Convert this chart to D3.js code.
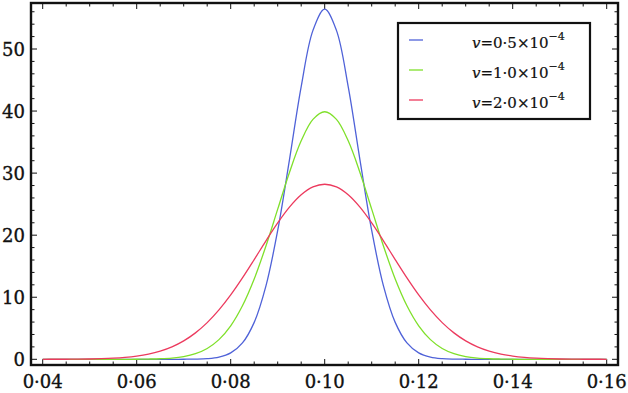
<!DOCTYPE html>
<html>
<head>
<meta charset="utf-8">
<script src="https://cdn.jsdelivr.net/npm/d3@7"></script>
<style>
  body { margin: 0; background: #fff; }
  svg { display: block; }
  text { font-family: "DejaVu Serif", "Liberation Serif", serif; fill: #111; stroke: #111; stroke-width: 0.35; }
</style>
</head>
<body>
<svg id="chart" width="628" height="393"></svg>
<script>
// x positions (0.04 .. 0.16, step 0.0025)
let xValues = [0.04, 0.0425, 0.045, 0.0475, 0.05, 0.0525, 0.055, 0.0575, 0.06, 0.0625, 0.065, 0.0675,
    0.07, 0.0725, 0.075, 0.0775, 0.08, 0.0825, 0.085, 0.0875, 0.09, 0.0925, 0.095, 0.0975, 0.10,
    0.1025, 0.105, 0.1075, 0.11, 0.1125, 0.115, 0.1175, 0.12, 0.1225, 0.125, 0.1275, 0.13, 0.1325,
    0.135, 0.1375, 0.14, 0.1425, 0.145, 0.1475, 0.15, 0.1525, 0.155, 0.1575, 0.16];

// values
let blueValues = [0, 0, 0, 0, 0, 0, 0, 0, 0, 0, 0, 0,
    0.01, 0.03, 0.11, 0.36, 1.03, 2.64, 5.95, 11.83, 20.76, 32.15, 43.94, 53.00, 56.42,
    53.00, 43.94, 32.15, 20.76, 11.83, 5.95, 2.64, 1.03, 0.36, 0.11, 0.03, 0.01,
    0, 0, 0, 0, 0, 0, 0, 0, 0, 0, 0, 0];
let greenValues = [0, 0, 0, 0, 0, 0, 0, 0,
    0.01, 0.04, 0.09, 0.20, 0.44, 0.91, 1.75, 3.17, 5.40, 8.63, 12.95, 18.26, 24.19, 30.11, 35.20, 38.66, 39.89,
    38.66, 35.20, 30.11, 24.19, 18.26, 12.95, 8.63, 5.40, 3.17, 1.75, 0.91, 0.44, 0.20, 0.09, 0.04, 0.01,
    0, 0, 0, 0, 0, 0, 0, 0];
let redValues = [0,
    0.01, 0.01, 0.03, 0.05, 0.10, 0.18, 0.31, 0.52, 0.84, 1.32, 2.01, 2.97, 4.26, 5.91, 7.96, 10.38,
    13.12, 16.07, 19.09, 21.97, 24.51, 26.50, 27.77, 28.21,
    27.77, 26.50, 24.51, 21.97, 19.09, 16.07, 13.12, 10.38, 7.96, 5.91, 4.26, 2.97, 2.01, 1.32,
    0.84, 0.52, 0.31, 0.18, 0.10, 0.05, 0.03, 0.01, 0.01,
    0];

let seriesNames = ['0·5', '1·0', '2·0'];
let seriesColors = ['#4f62d8', '#7fe02a', '#ec3a5e'];

let xTicks = [0.04, 0.06, 0.08, 0.10, 0.12, 0.14, 0.16];
let yTicks = [0, 10, 20, 30, 40, 50];

let svg = d3.select('#chart');

let frame = { left: 31, top: 3, right: 618, bottom: 365 };

let x = d3.scaleLinear().domain([0.04, 0.16]).range([42.7, 606.7]);
let y = d3.scaleLinear().domain([0, 50]).range([359.3, 49]);

// minor / major ticks (inward, all four sides)
let xMinor = d3.range(0, 25).map(i => 0.04 + i * 0.005);
let yMinor = d3.range(0, 29).map(i => i * 2);
let isMajorX = v => Math.abs(Math.round(v / 0.02) * 0.02 - v) < 1e-9;
let ticks = svg.append('g').attr('stroke', '#111').attr('stroke-width', 1);
xMinor.forEach(v => {
    let len = isMajorX(v) ? 6 : 3.5;
    ticks.append('line').attr('x1', x(v)).attr('x2', x(v)).attr('y1', frame.bottom).attr('y2', frame.bottom - len);
    ticks.append('line').attr('x1', x(v)).attr('x2', x(v)).attr('y1', frame.top).attr('y2', frame.top + len);
});
yMinor.filter(v => y(v) > frame.top + 2).forEach(v => {
    let len = v % 10 === 0 ? 6 : 3.5;
    ticks.append('line').attr('x1', frame.left).attr('x2', frame.left + len).attr('y1', y(v)).attr('y2', y(v));
    ticks.append('line').attr('x1', frame.right).attr('x2', frame.right - len).attr('y1', y(v)).attr('y2', y(v));
});

// curves
let line = d3.line()
    .x((d, i) => x(xValues[i]))
    .y(d => y(d))
    .curve(d3.curveCatmullRom.alpha(0.5));

let allSeries = [blueValues, greenValues, redValues];
svg.append('g').selectAll('path').data(allSeries).enter()
    .append('path')
    .attr('d', d => line(d))
    .attr('fill', 'none')
    .attr('stroke', (d, i) => seriesColors[i])
    .attr('stroke-width', 1.3);

// frame
svg.append('rect')
    .attr('x', frame.left).attr('y', frame.top)
    .attr('width', frame.right - frame.left).attr('height', frame.bottom - frame.top)
    .attr('fill', 'none').attr('stroke', '#111').attr('stroke-width', 2.4);

// tick labels
let fmt = d3.format('.2f');
svg.append('g').selectAll('text').data(xTicks).enter()
    .append('text')
    .attr('x', d => x(d))
    .attr('y', 388)
    .attr('font-size', 18)
    .attr('text-anchor', 'middle')
    .text(d => fmt(d).replace('.', '·'));

svg.append('g').selectAll('text').data(yTicks).enter()
    .append('text')
    .attr('x', 25)
    .attr('y', d => y(d) + 6.5)
    .attr('font-size', 18)
    .attr('text-anchor', 'end')
    .text(d => d);

// legend
let legend = svg.append('g');
legend.append('rect')
    .attr('x', 398).attr('y', 23).attr('width', 192).attr('height', 96)
    .attr('fill', '#fff').attr('stroke', '#111').attr('stroke-width', 2.2);

seriesNames.forEach((name, i) => {
    let cy = 40 + i * 30;
    legend.append('line')
        .attr('x1', 409).attr('x2', 423).attr('y1', cy).attr('y2', cy)
        .attr('stroke', seriesColors[i]).attr('stroke-width', 1.3);
    let t = legend.append('text')
        .attr('x', 472).attr('y', cy + 8)
        .attr('font-size', 15)
        .style('stroke-width', 0.2);
    t.append('tspan').attr('font-style', 'italic').text('v');
    t.append('tspan').text('=' + name + '×10');
    t.append('tspan').attr('font-size', 11).attr('dy', -8).text('−4');
});
</script>
</body>
</html>
